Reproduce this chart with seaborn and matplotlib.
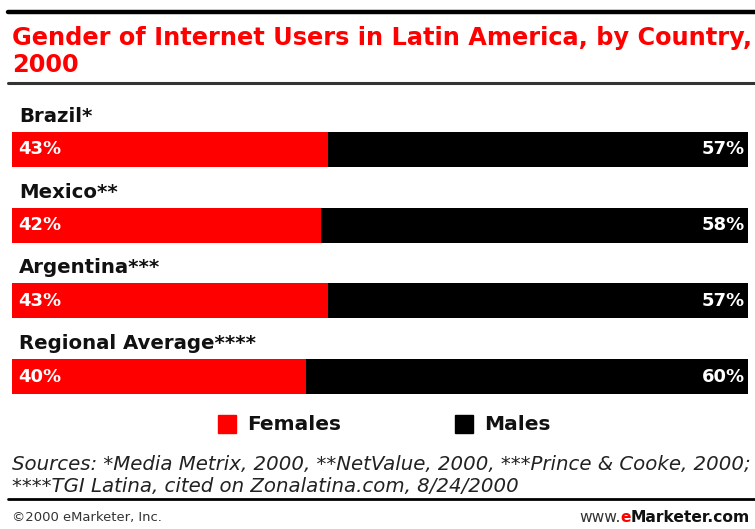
import matplotlib
matplotlib.use("Agg")
import matplotlib.pyplot as plt
import seaborn as sns
import pandas as pd
from matplotlib.lines import Line2D
from matplotlib.patches import Rectangle

countries = ["Brazil*", "Mexico**", "Argentina***", "Regional Average****"]
females = [43, 42, 43, 40]
males = [57, 58, 57, 60]
legend_labels = ["Females", "Males"]
title_lines = ["Gender of Internet Users in Latin America, by Country,", "2000"]
sources = ["Sources: *Media Metrix, 2000, **NetValue, 2000, ***Prince & Cooke, 2000;",
           "****TGI Latina, cited on Zonalatina.com, 8/24/2000"]

sns.set_theme(style="white")
plt.rcParams['font.family'] = ['DejaVu Sans']

W, H = 755, 529
fig = plt.figure(figsize=(W / 100, H / 100), dpi=100)
fig.patch.set_facecolor("white")
renderer = fig.canvas.get_renderer()


def fx(x):
    return x / W


def fy(y):
    return 1 - y / H


def fit(t, target):
    w = t.get_window_extent(renderer).width
    t.set_fontsize(t.get_fontsize() * target / w)


# bars axes
spacing = 75.67
c0 = 149.5
top = c0 - 0.5 * spacing
bottom = c0 + 3.5 * spacing
ax = fig.add_axes([fx(12), fy(bottom), fx(748) - fx(12), (bottom - top) / H])

df = pd.DataFrame({"country": countries, "Females": females, "Males": males})
df["total"] = df["Females"] + df["Males"]
sns.barplot(data=df, y="country", x="total", color="black", orient="h",
            width=0.465, ax=ax, saturation=1, edgecolor="none")
sns.barplot(data=df, y="country", x="Females", color="#ff0000", orient="h",
            width=0.465, ax=ax, saturation=1, edgecolor="none")
ax.set_xlim(0, 100)
ax.set_ylim(3.5, -0.5)
ax.axis("off")

for i, (c, f, m) in enumerate(zip(countries, females, males)):
    ax.text(1.0, i - 0.235 - 0.2, c, ha="left", va="center", fontsize=14.2,
            fontweight="bold", color="#111111")
    ax.text(0.8, i, f"{f}%", ha="left", va="center", fontsize=13,
            fontweight="bold", color="white")
    ax.text(99.6, i, f"{m}%", ha="right", va="center", fontsize=13,
            fontweight="bold", color="white")

# rules
fig.add_artist(Line2D([fx(8), fx(755)], [fy(12), fy(12)], color="black", lw=3.2))
fig.add_artist(Line2D([fx(8), fx(755)], [fy(83), fy(83)], color="#333333", lw=2.2))
fig.add_artist(Line2D([fx(8), fx(755)], [fy(499), fy(499)], color="black", lw=2.0))

# title
tt = fig.text(fx(12), fy(38), title_lines[0], ha="left", va="center", fontsize=17,
              fontweight="bold", color="#ff0000")
fit(tt, 738)
fig.text(fx(12), fy(65), title_lines[1], ha="left", va="center",
         fontsize=tt.get_fontsize(), fontweight="bold", color="#ff0000")

# legend
fig.add_artist(Rectangle((fx(218), fy(433)), 18 / W, 18 / H, color="#ff0000",
                         transform=fig.transFigure))
lf = fig.text(fx(247), fy(424), legend_labels[0], ha="left", va="center",
              fontsize=14, fontweight="bold", color="#111111")
fit(lf, 94)
fig.add_artist(Rectangle((fx(455), fy(433)), 18 / W, 18 / H, color="black",
                         transform=fig.transFigure))
fig.text(fx(484), fy(424), legend_labels[1], ha="left", va="center",
         fontsize=lf.get_fontsize(), fontweight="bold", color="#111111")

# sources
s1 = fig.text(fx(12), fy(465), sources[0], ha="left", va="center", fontsize=12,
              style="italic", color="#222222")
fit(s1, 738)
fig.text(fx(12), fy(487), sources[1], ha="left", va="center",
         fontsize=s1.get_fontsize(), style="italic", color="#222222")

# footer
ft = fig.text(fx(12), fy(518), "©2000 eMarketer, Inc.", ha="left", va="center",
              fontsize=10, color="#333333")
fit(ft, 149)
t1 = fig.text(fx(750), fy(518), "Marketer.com", ha="right", va="center",
              fontsize=11.2, fontweight="bold", color="#111111")
bb = t1.get_window_extent(renderer)
t2 = fig.text(bb.x0 / W, fy(518), "e", ha="right", va="center", fontsize=11.2,
              fontweight="bold", color="#ff0000")
bb2 = t2.get_window_extent(renderer)
fig.text(bb2.x0 / W, fy(518), "www.", ha="right", va="center", fontsize=11.2,
         color="#333333")

fig.savefig("out.png", dpi=100, facecolor="white")
